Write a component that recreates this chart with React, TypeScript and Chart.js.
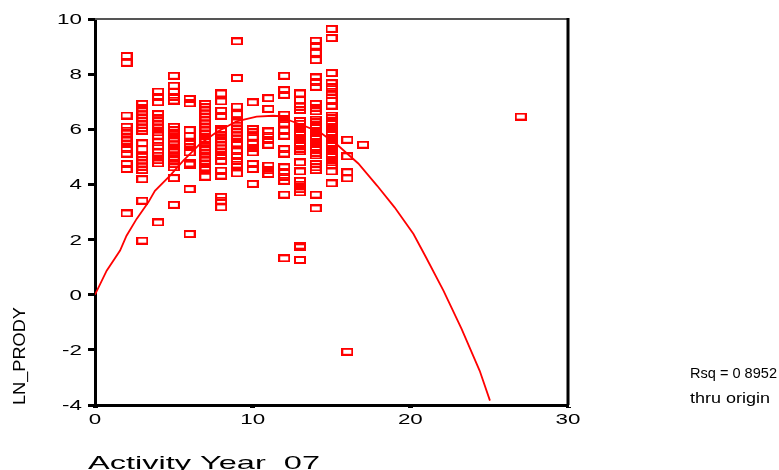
import React, { useEffect, useRef } from "react";
import { Chart, registerables } from "chart.js";

Chart.register(...registerables);

// Activity year (x) of each column of observations
const years: number[] = [2, 3, 4, 5, 6, 7, 8, 9, 10, 11, 12, 13, 14, 15, 16, 17, 27];

// LNPROD observations, one list per activity year
const lnprod: number[][] = [
  [8.66, 8.41, 6.5, 6.09, 5.95, 5.84, 5.7, 5.59, 5.47, 5.28, 5.12, 4.74, 4.56, 2.95],
  [6.92, 6.77, 6.65, 6.53, 6.41, 6.29, 6.17, 6.05, 5.95, 5.49, 5.28, 5.0, 4.88, 4.76, 4.64, 4.52, 4.19, 3.41, 1.96],
  [7.37, 7.18, 6.98, 6.55, 6.41, 6.29, 6.17, 6.05, 5.89, 5.77, 5.53, 5.4, 5.16, 5.04, 4.88, 4.76, 2.62],
  [7.94, 7.58, 7.36, 7.18, 7.04, 6.09, 5.97, 5.83, 5.68, 5.56, 5.44, 5.28, 5.16, 5.0, 4.88, 4.74, 4.62, 4.23, 3.26],
  [7.1, 6.94, 5.97, 5.77, 5.47, 5.34, 5.16, 4.76, 4.72, 3.83, 2.2],
  [6.92, 6.8, 6.68, 6.56, 6.44, 6.32, 6.2, 6.07, 5.95, 5.83, 5.65, 5.53, 5.37, 5.25, 5.12, 4.98, 4.86, 4.74, 4.62, 4.56, 4.28],
  [7.3, 7.01, 6.67, 6.49, 6.01, 5.93, 5.8, 5.65, 5.53, 5.41, 5.3, 5.18, 5.03, 4.86, 4.5, 4.32, 3.55, 3.41, 3.17],
  [9.19, 7.86, 6.82, 6.55, 6.25, 6.13, 6.01, 5.89, 5.77, 5.65, 5.49, 5.2, 5.04, 4.86, 4.72, 4.4],
  [6.98, 6.01, 5.89, 5.73, 5.47, 5.32, 5.16, 4.74, 4.56, 4.02],
  [7.13, 6.74, 5.92, 5.77, 5.61, 5.44, 4.68, 4.52, 4.38],
  [7.94, 7.42, 7.25, 6.53, 6.37, 6.21, 5.95, 5.77, 5.28, 5.12, 4.62, 4.44, 4.28, 4.13, 3.63, 1.32],
  [7.3, 7.06, 6.82, 6.7, 6.3, 6.2, 6.1, 6.0, 5.9, 5.8, 5.7, 5.6, 5.5, 5.4, 5.3, 5.2, 4.8, 4.47, 4.13, 3.99, 3.83, 3.71, 1.78, 1.72, 1.26],
  [9.21, 9.03, 8.77, 8.51, 7.88, 7.7, 7.54, 6.92, 6.77, 6.65, 6.35, 6.25, 6.15, 6.05, 5.95, 5.85, 5.75, 5.65, 5.55, 5.45, 5.35, 5.25, 5.15, 5.05, 4.74, 4.62, 4.52, 3.63, 3.13],
  [9.64, 9.31, 8.04, 7.67, 7.52, 7.37, 7.25, 7.04, 6.86, 6.5, 6.4, 6.3, 6.2, 6.1, 6.0, 5.9, 5.8, 5.7, 5.6, 5.5, 5.4, 5.3, 5.2, 5.1, 5.0, 4.9, 4.8, 4.7, 4.47, 4.04],
  [5.62, 5.02, 4.44, 4.22, -2.07],
  [5.44],
  [6.46],
];

// Fitted curve (through origin) as drawn
const curveX: number[] = [0, 0.74, 1.59, 2.0, 2.64, 3.38, 3.8, 4.76, 5.6, 6.66, 7.7, 8.98, 10.25, 11.3, 11.73, 12.4, 13.3, 14.27, 15.4, 16.7, 17.9, 19.0, 20.2, 21.0, 22.1, 23.25, 24.4, 25.05];
const curveY: number[] = [0, 0.87, 1.6, 2.14, 2.75, 3.35, 3.77, 4.32, 4.86, 5.47, 5.89, 6.29, 6.46, 6.49, 6.48, 6.31, 6.12, 5.89, 5.42, 4.76, 3.95, 3.17, 2.2, 1.35, 0.15, -1.24, -2.76, -3.84];

const xRange = { min: 0, max: 30, step: 10 };
const yRange = { min: -4, max: 10, step: 2 };

const xTitle = "Activity Year  07";
const yTitle = "LN_PRODY";
const fitNote = ["Rsq = 0 8952", "thru origin"];

const FONT = '"Liberation Sans", Arial, sans-serif';

function drawText(
  ctx: CanvasRenderingContext2D,
  text: string,
  x: number,
  y: number,
  size: number,
  opts: { sx?: number; width?: number; align?: CanvasTextAlign; rot?: number } = {}
) {
  ctx.save();
  ctx.font = `${size}px ${FONT}`;
  const w = ctx.measureText(text).width;
  const sx = opts.width ? opts.width / w : opts.sx ?? 1;
  ctx.translate(x, y);
  if (opts.rot) ctx.rotate(opts.rot);
  ctx.scale(sx, 1);
  ctx.textAlign = opts.align ?? "left";
  ctx.textBaseline = "alphabetic";
  ctx.fillStyle = "#000";
  ctx.fillText(text, 0, 0);
  ctx.restore();
}

function makeMarker(): HTMLCanvasElement {
  const c = document.createElement("canvas");
  c.width = 12;
  c.height = 8;
  const g = c.getContext("2d")!;
  g.strokeStyle = "#ff0000";
  g.lineWidth = 2;
  g.strokeRect(1, 1, 10, 6);
  return c;
}

const textPlugin = {
  id: "textPlugin",
  afterDraw(chart: any) {
    const ctx: CanvasRenderingContext2D = chart.ctx;
    const { left, right, top, bottom } = chart.chartArea;
    // frame: top (grey) and right (black)
    ctx.save();
    ctx.strokeStyle = "#555";
    ctx.lineWidth = 2;
    ctx.beginPath();
    ctx.moveTo(left, top);
    ctx.lineTo(right, top);
    ctx.stroke();
    ctx.strokeStyle = "#000";
    ctx.lineWidth = 3;
    ctx.beginPath();
    ctx.moveTo(right, top - 1);
    ctx.lineTo(right, bottom);
    ctx.stroke();
    ctx.restore();

    const xs = chart.scales.x;
    const ys = chart.scales.y;
    ys.ticks.forEach((t: any) => {
      const py = ys.getPixelForValue(t.value);
      drawText(ctx, String(t.value), left - 13, py + 5, 14, { sx: 1.6, align: "right" });
    });
    xs.ticks.forEach((t: any) => {
      const px = xs.getPixelForValue(t.value);
      drawText(ctx, String(t.value), px, bottom + 19, 14, { sx: 1.6, align: "center" });
    });
    drawText(ctx, xTitle, 88, 468.5, 19, { width: 232 });
    drawText(ctx, yTitle, 25, 405, 17, { width: 98, rot: -Math.PI / 2 });
    drawText(ctx, fitNote[0], 690, 378, 14.5, { width: 87 });
    drawText(ctx, fitNote[1], 690, 403, 14.5, { width: 80 });
  },
};

export default function App() {
  const ref = useRef<HTMLCanvasElement | null>(null);
  useEffect(() => {
    if (!ref.current) return;
    const marker = makeMarker();
    const points = years.flatMap((yr, i) => lnprod[i].map((v) => ({ x: yr, y: v })));
    const curve = curveX.map((x, i) => ({ x, y: curveY[i] }));
    const chart = new Chart(ref.current, {
      type: "scatter",
      data: {
        datasets: [
          {
            label: "LNPROD",
            data: points,
            pointStyle: marker as any,
            pointRadius: 5,
            borderColor: "#ff0000",
            backgroundColor: "#ff0000",
          },
          {
            label: "Fit",
            data: curve,
            showLine: true,
            pointRadius: 0,
            borderColor: "#ff0000",
            borderWidth: 1.8,
            tension: 0,
          } as any,
        ],
      },
      options: {
        animation: false,
        responsive: false,
        maintainAspectRatio: false,
        layout: { padding: { top: 19, right: 211, left: 0, bottom: 0 } },
        plugins: { legend: { display: false }, tooltip: { enabled: false } },
        scales: {
          x: {
            type: "linear",
            min: xRange.min,
            max: xRange.max,
            ticks: { stepSize: xRange.step, color: "rgba(0,0,0,0)", font: { size: 14 } },
            grid: { drawOnChartArea: false, drawTicks: true, tickLength: 3, tickWidth: 5, tickColor: "#000" },
            border: { display: true, color: "#000", width: 3 },
            afterFit: (s: any) => {
              s.height = 65;
            },
          },
          y: {
            type: "linear",
            min: yRange.min,
            max: yRange.max,
            ticks: { stepSize: yRange.step, color: "rgba(0,0,0,0)", font: { size: 14 } },
            grid: { drawOnChartArea: false, drawTicks: true, tickLength: 7, tickWidth: 3, tickColor: "#000" },
            border: { display: true, color: "#000", width: 3 },
            afterFit: (s: any) => {
              s.width = 95;
            },
          },
        },
      },
      plugins: [textPlugin],
    });
    return () => chart.destroy();
  }, []);
  return (
    <div style={{ position: "absolute", left: 0, top: 0, width: 779, height: 470, background: "#fff" }}>
      <canvas ref={ref} width={779} height={470} style={{ display: "block" }} />
    </div>
  );
}
